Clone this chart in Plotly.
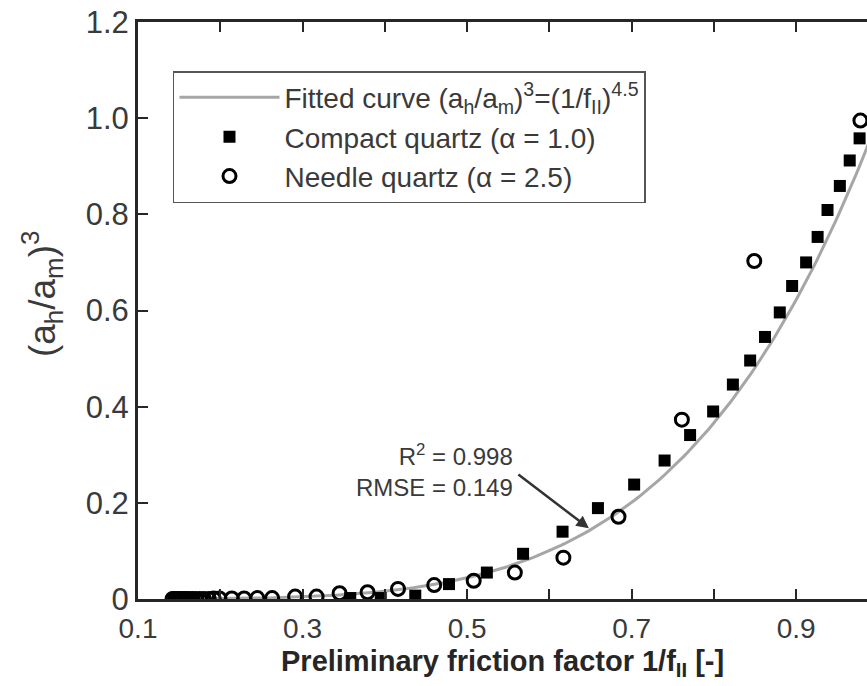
import numpy as np
import plotly.graph_objects as go

# ---- data ----
COMPACT_X = [0.358, 0.395, 0.437, 0.478, 0.524, 0.568, 0.616, 0.659, 0.703, 0.740,
             0.771, 0.799, 0.823, 0.844, 0.862, 0.880, 0.895, 0.912, 0.926, 0.938,
             0.953, 0.965, 0.977]
COMPACT_Y = [0.002, 0.002, 0.007, 0.031, 0.055, 0.094, 0.140, 0.189, 0.238, 0.288,
             0.341, 0.390, 0.446, 0.496, 0.545, 0.596, 0.651, 0.700, 0.753, 0.809,
             0.859, 0.912, 0.958]

NEEDLE_X = [0.142, 0.144, 0.146, 0.148, 0.150, 0.153, 0.156, 0.159, 0.162, 0.166,
            0.170, 0.175, 0.180, 0.186, 0.192, 0.199, 0.214, 0.229, 0.245, 0.263,
            0.291, 0.317, 0.345, 0.379, 0.416, 0.460, 0.508, 0.558, 0.617, 0.684,
            0.761, 0.849, 0.978]
NEEDLE_Y = [0.000, 0.000, 0.000, 0.000, 0.000, 0.000, 0.000, 0.000, 0.000, 0.000,
            0.000, 0.000, 0.000, 0.000, 0.001, 0.001, 0.001, 0.001, 0.002, 0.002,
            0.005, 0.005, 0.012, 0.014, 0.021, 0.029, 0.038, 0.055, 0.086, 0.171,
            0.373, 0.703, 0.995]

FIT_EXPONENT = 4.5
CURVE_X = np.linspace(0.14, 0.99, 200)
CURVE_Y = CURVE_X ** FIT_EXPONENT

X_TICKS = [0.1, 0.2, 0.3, 0.4, 0.5, 0.6, 0.7, 0.8, 0.9]
X_TICKTEXT = ["0.1", "", "0.3", "", "0.5", "", "0.7", "", "0.9"]
Y_TICKS = [0, 0.2, 0.4, 0.6, 0.8, 1.0, 1.2]
Y_TICKTEXT = ["0", "0.2", "0.4", "0.6", "0.8", "1.0", "1.2"]

FONT = "Liberation Sans, Arial, Helvetica, sans-serif"
AX = "#262626"
TXT = "#3a3a3a"

fig = go.Figure()
fig.add_trace(go.Scatter(
    x=CURVE_X, y=CURVE_Y, mode="lines",
    line=dict(color="#a6a6a6", width=3),
    name="Fitted curve (a<sub>h</sub>/a<sub>m</sub>)<sup>3</sup>=(1/f<sub>II</sub>)<sup>4.5</sup>"))
fig.add_trace(go.Scatter(
    x=COMPACT_X, y=COMPACT_Y, mode="markers",
    marker=dict(symbol="square", size=12, color="black", line=dict(width=0)),
    name="Compact quartz (α = 1.0)"))
fig.add_trace(go.Scatter(
    x=NEEDLE_X, y=NEEDLE_Y, mode="markers",
    marker=dict(symbol="circle-open", size=13, color="black", line=dict(width=3, color="black")),
    name="Needle quartz (α = 2.5)"))

fig.add_annotation(
    x=0.5587, y=0.267, xref="x", yref="y", showarrow=False,
    text="R<sup>2</sup> = 0.998<br>RMSE = 0.149",
    xanchor="right", yanchor="middle", align="right",
    font=dict(family=FONT, size=24, color=TXT))
fig.add_annotation(
    x=0.648, y=0.147, xref="x", yref="y", text="", showarrow=True,
    ax=-72, ay=-55, arrowhead=2, arrowsize=1, arrowwidth=2.5, arrowcolor="#333333")

# y-axis title (placed as rotated text to match the reference position)
fig.add_annotation(
    x=-0.132, y=0.528, xref="paper", yref="paper", showarrow=False,
    text="(a<sub>h</sub>/a<sub>m</sub>)<sup>3</sup>", textangle=-90,
    xanchor="center", yanchor="middle",
    font=dict(family=FONT, size=37, color=TXT))

# x-axis title as text below the tick labels
fig.add_annotation(
    x=0.5, y=0, xref="paper", yref="paper", showarrow=False,
    text="<b>Preliminary friction factor 1/f<sub>II</sub> [-]</b>",
    xanchor="center", yanchor="top", yshift=-44,
    font=dict(family=FONT, size=29, color=AX))

fig.update_layout(
    width=867, height=686,
    margin=dict(l=138, r=0, t=22, b=87),
    plot_bgcolor="white", paper_bgcolor="white",
    font=dict(family=FONT, color=TXT),
    showlegend=True,
    legend=dict(
        x=0.048, y=0.915, xanchor="left", yanchor="top",
        bgcolor="white", bordercolor="#555555", borderwidth=1.5,
        font=dict(family=FONT, size=28, color=TXT),
        itemwidth=100, tracegroupgap=0),
)
fig.update_xaxes(
    range=[0.1, 0.986], tickmode="array", tickvals=X_TICKS, ticktext=X_TICKTEXT,
    ticks="inside", ticklen=10, tickwidth=1.5, tickcolor=AX,
    showline=True, linewidth=3, linecolor=AX, mirror="ticks",
    showgrid=False, zeroline=False, ticklabelstandoff=2,
    tickfont=dict(family=FONT, size=28, color=TXT))
fig.update_yaxes(
    range=[0, 1.2], tickmode="array", tickvals=Y_TICKS, ticktext=Y_TICKTEXT,
    ticks="inside", ticklen=10, tickwidth=1.5, tickcolor=AX,
    showline=True, linewidth=3, linecolor=AX, mirror=False,
    showgrid=False, zeroline=False,
    tickfont=dict(family=FONT, size=31, color=TXT))

fig.write_html("out.html")
